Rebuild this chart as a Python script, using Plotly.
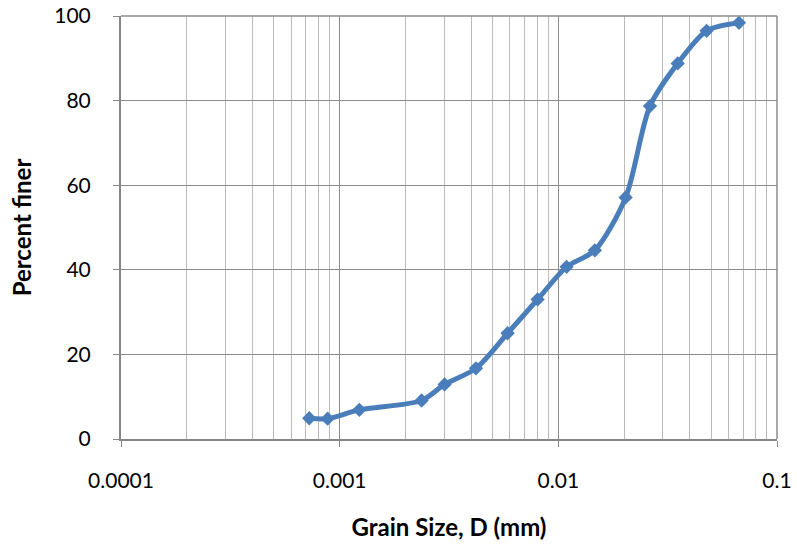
import plotly.graph_objects as go

# Grain size distribution (hydrometer / sieve) data
grain_size_mm = [0.000726, 0.000881, 0.00123, 0.00237, 0.00302, 0.00420, 0.00586,
                 0.00804, 0.01091, 0.01469, 0.02032, 0.02624, 0.03515, 0.04765, 0.0670]
percent_finer = [4.9, 4.8, 6.9, 9.1, 12.9, 16.7, 25.0,
                 33.0, 40.7, 44.6, 57.1, 78.7, 88.8, 96.5, 98.4]

x_tick_vals = [0.0001, 0.001, 0.01, 0.1]
x_tick_text = ["0.0001", "0.001", "0.01", "0.1"]
y_tick_vals = [0, 20, 40, 60, 80, 100]

line_color = "#4A7EBB"
axis_color = "#868686"
major_grid = "#8C8C8C"
minor_grid = "#BBBBBB"
font_family = "Lato, 'Open Sans', sans-serif"

fig = go.Figure()
fig.add_trace(go.Scatter(
    x=grain_size_mm,
    y=percent_finer,
    mode="lines+markers",
    line=dict(color=line_color, width=5, shape="spline", smoothing=0.8),
    marker=dict(symbol="diamond", size=11, color=line_color),
    showlegend=False,
))

fig.update_layout(
    width=797,
    height=551,
    margin=dict(l=121, r=20, t=16, b=112),
    paper_bgcolor="white",
    plot_bgcolor="white",
    font=dict(family=font_family, size=21, color="black"),
)

fig.update_xaxes(
    type="log",
    range=[-4, -1],
    automargin=False,
    tickvals=x_tick_vals,
    ticktext=x_tick_text,
    ticks="outside",
    ticklen=6,
    tickcolor=axis_color,
    ticklabelstandoff=16,
    showline=True,
    linecolor=axis_color,
    linewidth=2,
    showgrid=True,
    gridcolor=major_grid,
    gridwidth=1,
    minor=dict(dtick="D1", showgrid=True, gridcolor=minor_grid, gridwidth=1.2, ticks=""),
    title=dict(text="<b>Grain Size, D (mm)</b>", font=dict(size=24), standoff=28),
    zeroline=False,
)

fig.update_yaxes(
    range=[0, 100],
    automargin=False,
    tickvals=y_tick_vals,
    ticks="outside",
    ticklen=6,
    tickcolor=axis_color,
    ticklabelstandoff=18,
    showline=True,
    linecolor=axis_color,
    linewidth=2,
    showgrid=True,
    gridcolor=major_grid,
    gridwidth=1,
    title=dict(text="<b>Percent finer</b>", font=dict(size=24), standoff=16),
    zeroline=False,
)

# top and right frame edges drawn as grid-coloured lines
fig.add_shape(type="line", xref="paper", yref="paper", x0=0, x1=1, y0=1, y1=1,
              line=dict(color=major_grid, width=1.5))
fig.add_shape(type="line", xref="paper", yref="paper", x0=1, x1=1, y0=0, y1=1,
              line=dict(color=major_grid, width=1.5))

fig.write_html("out.html")
